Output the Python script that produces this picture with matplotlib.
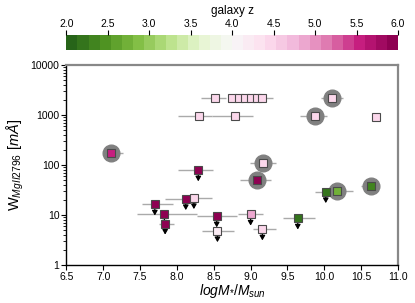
import matplotlib
matplotlib.use("Agg")
import matplotlib.pyplot as plt
import numpy as np
from matplotlib.transforms import offset_copy
from matplotlib.cm import ScalarMappable
from matplotlib.colors import Normalize

plt.rcParams['font.family'] = ['Liberation Sans', 'DejaVu Sans']
plt.rcParams['mathtext.fontset'] = 'custom'
plt.rcParams['mathtext.rm'] = 'Liberation Sans'
plt.rcParams['mathtext.it'] = 'Liberation Sans:italic'

# data: stellar mass, equivalent width, x-error (low/high), redshift, upper limit, halo
logm = [7.10, 8.29, 8.12, 8.23, 7.70, 7.83, 7.84, 8.54, 8.55, 9.00, 9.16, 9.64,
        10.02, 10.17, 10.64, 9.17, 9.09, 8.30, 8.79, 9.87, 10.10, 10.70,
        8.52, 8.75, 8.84, 8.92, 9.00, 9.08, 9.16]
ew = [176, 79, 21, 22, 16.4, 10.3, 6.8, 9.5, 4.8, 10.3, 5.2, 8.6,
      29, 30.5, 38, 111, 50, 955, 955, 955, 2190, 930,
      2190, 2190, 2190, 2190, 2190, 2190, 2190]
xerr_lo = [0.05, 0.28, 0.28, 0.10, 0.18, 0.37, 0.08, 0.27, 0.21, 0.17, 0.13, 0.20,
           0.15, 0.09, 0.14, 0.18, 0.24, 0.28, 0.32, 0.20, 0.15, 0.0,
           0.20, 0.06, 0.06, 0.06, 0.06, 0.06, 0.06]
xerr_hi = [0.17, 0.20, 0.15, 0.25, 0.24, 0.44, 0.12, 0.27, 0.22, 0.17, 0.19, 0.24,
           0.21, 0.22, 0.0, 0.18, 0.19, 0.17, 0.24, 0.16, 0.15, 0.0,
           0.15, 0.06, 0.06, 0.06, 0.06, 0.06, 0.14]
zgal = [5.5, 6.0, 6.0, 4.4, 6.0, 6.0, 6.0, 6.0, 4.2, 4.9, 4.4, 2.2,
        2.2, 2.8, 2.3, 4.4, 6.0, 4.4, 4.4, 4.4, 4.4, 4.5,
        4.4, 4.4, 4.4, 4.4, 4.4, 4.4, 4.4]
uplim = [0, 1, 1, 1, 1, 1, 1, 1, 1, 1, 1, 1,
         1, 0, 0, 0, 0, 0, 0, 0, 0, 0,
         0, 0, 0, 0, 0, 0, 0]
halo = [1, 0, 0, 0, 0, 0, 0, 0, 0, 0, 0, 0,
        0, 1, 1, 1, 1, 0, 0, 1, 1, 0,
        0, 0, 0, 0, 0, 0, 0]

cbar_ticks = [2.0, 2.5, 3.0, 3.5, 4.0, 4.5, 5.0, 5.5, 6.0]
xticks = [6.5, 7.0, 7.5, 8.0, 8.5, 9.0, 9.5, 10.0, 10.5, 11.0]
yticks = [1, 10, 100, 1000, 10000]

cmap = plt.get_cmap('PiYG_r', 30)
norm = Normalize(2.0, 6.0)

fig = plt.figure(figsize=(4.15, 3.03), dpi=100)
ax = fig.add_axes([0.160, 0.125, 0.799, 0.660])
cax = fig.add_axes([0.160, 0.835, 0.799, 0.048])

for i in range(len(logm)):
    x, y = logm[i], ew[i]
    if xerr_lo[i] > 0 or xerr_hi[i] > 0:
        ax.errorbar([x], [y], xerr=[[xerr_lo[i]], [xerr_hi[i]]], fmt='none',
                    ecolor='#aaaaaa', elinewidth=1.0, capsize=0, zorder=1)
for i in range(len(logm)):
    x, y = logm[i], ew[i]
    if halo[i]:
        ax.plot([x], [y], 'o', ms=12, color='#808080', mec='#808080', zorder=2)
    if uplim[i]:
        t0 = offset_copy(ax.transData, fig=fig, x=0, y=-2, units='points')
        t1 = offset_copy(ax.transData, fig=fig, x=0, y=-8, units='points')
        ax.annotate('', xy=(x, y), xycoords=t1, xytext=(x, y), textcoords=t0,
                    arrowprops=dict(arrowstyle='-|>,head_width=0.16,head_length=0.28',
                                    color='black', lw=0.9, shrinkA=0, shrinkB=0),
                    zorder=3)
    ax.plot([x], [y], 's', ms=5.6, color=cmap(norm(zgal[i])), mec='#4a4a4a',
            mew=0.8, zorder=4)

ax.set_yscale('log')
ax.set_xlim(6.5, 11.0)
ax.set_ylim(1, 10000)
ax.set_xticks(xticks)
ax.set_xticklabels([f'{t:.1f}' for t in xticks])
ax.set_yticks(yticks)
ax.set_yticklabels([str(t) for t in yticks])
ax.tick_params(axis='both', which='major', labelsize=7.5, length=3.5, width=0.8,
               direction='out', pad=1.5)
ax.tick_params(axis='y', which='minor', length=2, width=0.6, direction='out')
for s in ['left', 'bottom']:
    ax.spines[s].set_color('black')
    ax.spines[s].set_linewidth(1.0)
for s in ['top', 'right']:
    ax.spines[s].set_color('#888888')
    ax.spines[s].set_linewidth(1.6)

ax.set_xlabel(r'$logM_{*}/M_{sun}$', fontsize=10, labelpad=0)
ax.set_ylabel(r'W$_{MgII2796}$ $[m\AA]$', fontsize=10.5, labelpad=3)

sm = ScalarMappable(norm=norm, cmap=cmap)
cb = fig.colorbar(sm, cax=cax, orientation='horizontal', ticks=cbar_ticks)
cb.outline.set_visible(False)
cax.xaxis.set_ticks_position('top')
cax.xaxis.set_label_position('top')
cax.set_xticklabels([f'{t:.1f}' for t in cbar_ticks])
cax.tick_params(labelsize=7.5, length=3.5, width=0.8, pad=1.5)
cb.set_label('galaxy z', fontsize=8.5, labelpad=3)

fig.savefig('out.png', dpi=100)
